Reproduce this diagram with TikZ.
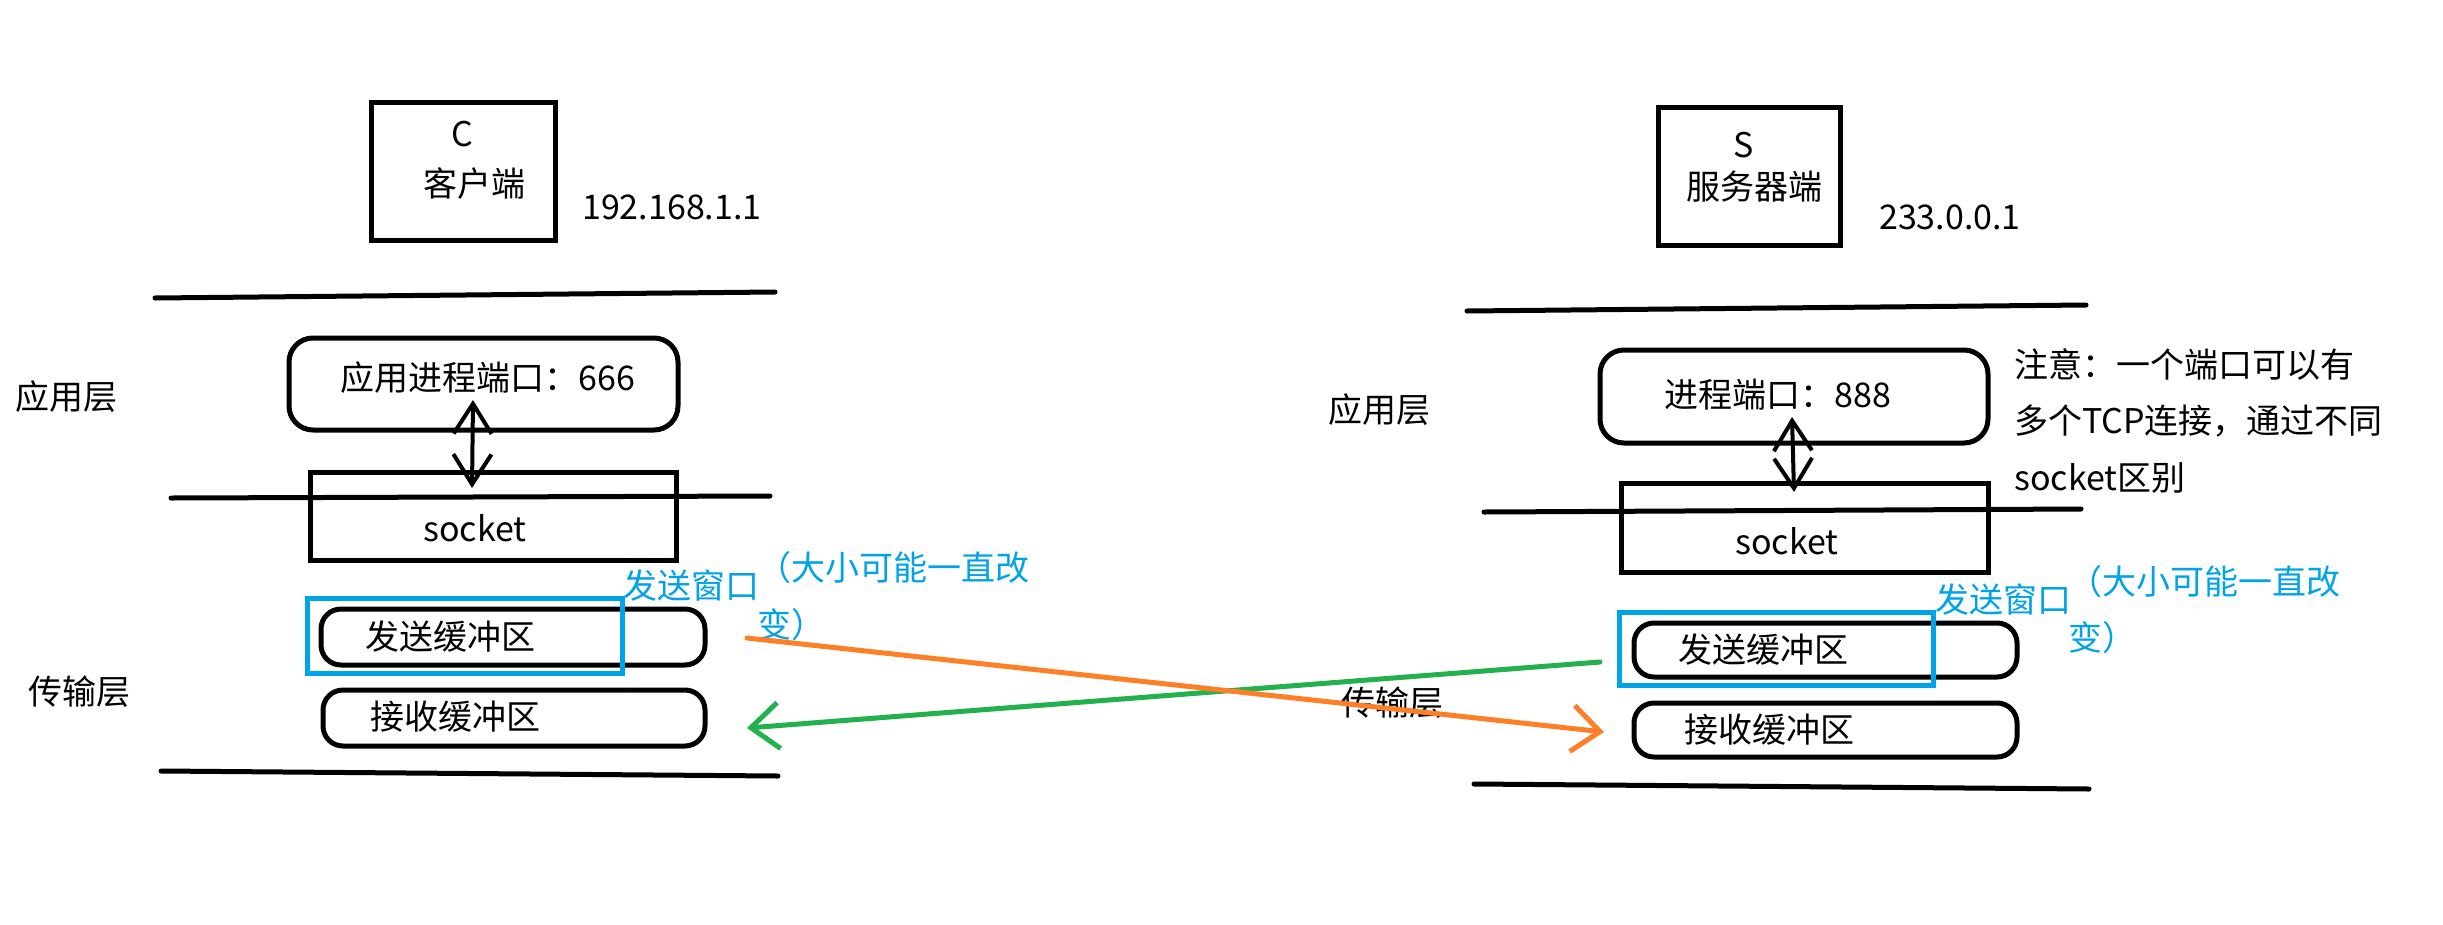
\documentclass[tikz,border=0pt]{standalone}
\usepackage{fontspec}
\setmainfont{Noto Sans CJK SC}
\usetikzlibrary{arrows.meta}
\definecolor{pblue}{HTML}{00A2E8}
\definecolor{porange}{HTML}{FF7F27}
\definecolor{pgreen}{HTML}{22B14C}
\tikzset{
  txt/.style={inner sep=0pt, font=\fontsize{34pt}{40pt}\selectfont},
  bluetxt/.style={txt, text=pblue},
  sqbox/.style={draw, line width=5pt, inner sep=0pt},
  pill/.style={draw, line width=5pt, inner sep=0pt, rounded corners=24pt},
  winbox/.style={draw=pblue, line width=5pt, inner sep=0pt},
  rule/.style={line width=5pt, line cap=round},
  dbl/.style={line width=4pt, line cap=round, {Straight Barb[length=30pt,width=38pt]}-{Straight Barb[length=30pt,width=38pt]}},
  flow/.style={line width=5pt, line cap=round, -{Straight Barb[length=28pt,width=46pt]}},
}
\begin{document}
\begin{tikzpicture}[x=1pt,y=-1pt]
\useasboundingbox (0,0) rectangle (2443,924);
\fill[white] (0,0) rectangle (2443,924);

% ---------- client side ----------
\node[sqbox, minimum width=184pt, minimum height=138pt] (cbox) at (463,171) {};
\node[txt] (cC) at (462,134) {C};
\node[txt] (cName) at (474,184) {客户端};
\node[txt, anchor=west] (ip1) at (582,207) {192.168.1.1};

\coordinate (la1a) at (155,298); \coordinate (la1b) at (775,292);
\coordinate (la2a) at (171,498); \coordinate (la2b) at (770,496);
\coordinate (la3a) at (161,771); \coordinate (la3b) at (778,776);
\draw[rule] (la1a) -- (la1b);
\draw[rule] (la2a) -- (la2b);
\draw[rule] (la3a) -- (la3b);

\node[txt, anchor=west] (appL) at (15,397) {应用层};
\node[txt, anchor=west] (transL) at (28,692) {传输层};

\node[pill, minimum width=389pt, minimum height=92pt] (port1) at (483.5,384) {};
\node[txt] (port1t) at (488,378) {应用进程端口：666};

\node[sqbox, minimum width=366pt, minimum height=88pt] (sock1) at (493,516) {};
\node[txt] (sock1t) at (475,528) {socket};

\node[pill, minimum width=384pt, minimum height=56pt, rounded corners=20pt] (send1) at (513,637) {};
\node[txt, anchor=west] (send1t) at (365,637) {发送缓冲区};
\node[winbox, minimum width=315pt, minimum height=75pt] (win1) at (464.5,635.5) {};

\node[pill, minimum width=382pt, minimum height=56pt, rounded corners=20pt] (recv1) at (514,718) {};
\node[txt, anchor=west] (recv1t) at (370,717) {接收缓冲区};

\node[bluetxt, anchor=west] (win1a) at (623,586) {发送窗口};
\node[bluetxt, anchor=west] (win1b) at (757,568) {（大小可能一直改};
\node[bluetxt, anchor=west] (win1c) at (757,625) {变）};

\coordinate (d1top) at (473,400);
\coordinate (d1bot) at (472,488);
\draw[dbl] (d1top) -- (d1bot);

% ---------- server side ----------
\node[sqbox, minimum width=182pt, minimum height=138pt] (sbox) at (1749,176) {};
\node[txt] (sS) at (1744,145) {S};
\node[txt] (sName) at (1754,187) {服务器端};
\node[txt, anchor=west] (ip2) at (1879,217) {233.0.0.1};

\coordinate (lb1a) at (1467,311); \coordinate (lb1b) at (2086,305);
\coordinate (lb2a) at (1484,512); \coordinate (lb2b) at (2081,509);
\coordinate (lb3a) at (1474,784); \coordinate (lb3b) at (2089,789);
\draw[rule] (lb1a) -- (lb1b);
\draw[rule] (lb2a) -- (lb2b);
\draw[rule] (lb3a) -- (lb3b);

\node[txt, anchor=west] (appR) at (1328,410) {应用层};

\node[pill, minimum width=388pt, minimum height=93pt] (port2) at (1794,396.5) {};
\node[txt] (port2t) at (1778,395) {进程端口：888};

\node[txt, anchor=west] (note1) at (2014,365) {注意：一个端口可以有};
\node[txt, anchor=west] (note2) at (2014,421) {多个TCP连接，通过不同};
\node[txt, anchor=west] (note3) at (2014,478) {socket区别};

\node[sqbox, minimum width=367pt, minimum height=89pt] (sock2) at (1804.5,527.5) {};
\node[txt] (sock2t) at (1787,541) {socket};

\node[pill, minimum width=383pt, minimum height=54pt, rounded corners=20pt] (send2) at (1825.5,650) {};
\node[txt, anchor=west] (send2t) at (1678,650) {发送缓冲区};
\node[winbox, minimum width=314pt, minimum height=73pt] (win2) at (1776,648.5) {};

\node[pill, minimum width=383pt, minimum height=54pt, rounded corners=20pt] (recv2) at (1825.5,730) {};
\node[txt, anchor=west] (recv2t) at (1684,730) {接收缓冲区};

\node[bluetxt, anchor=west] (win2a) at (1935,600) {发送窗口};
\node[bluetxt, anchor=west] (win2b) at (2068,582) {（大小可能一直改};
\node[bluetxt, anchor=west] (win2c) at (2068,638) {变）};

\coordinate (d2top) at (1792,417);
\coordinate (d2bot) at (1794,492);
\draw[dbl] (d2top) -- (d2bot);

% ---------- transfer arrows ----------
\coordinate (oStart) at (747,638);
\coordinate (oEnd) at (1604,732);
\coordinate (gStart) at (1600,662);
\coordinate (gEnd) at (747,728);
\draw[flow, draw=pgreen] (gStart) -- (gEnd);
\node[txt, anchor=west] (transR) at (1341,703) {传输层};
\draw[flow, draw=porange] (oStart) -- (oEnd);
\end{tikzpicture}
\end{document}
